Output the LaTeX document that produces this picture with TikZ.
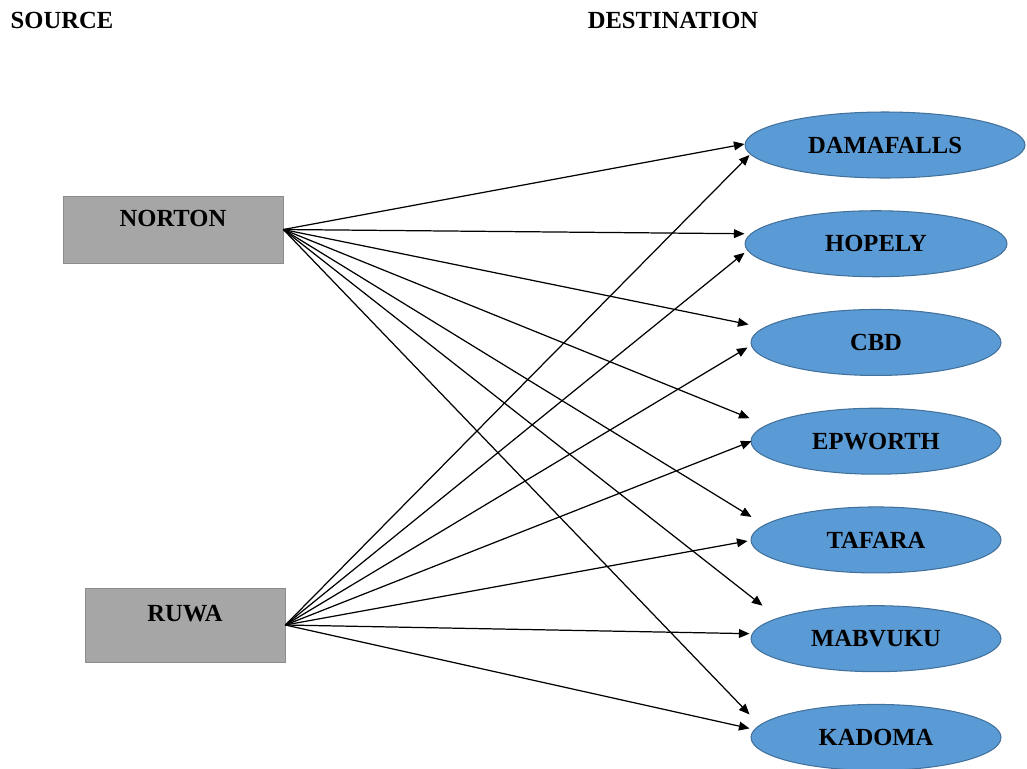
\documentclass[tikz,border=0pt]{standalone}
\usepackage{fontspec}
\setmainfont{Liberation Serif}
\usetikzlibrary{positioning,shapes.geometric,arrows.meta}
\definecolor{boxgray}{HTML}{A6A6A6}
\definecolor{boxline}{HTML}{8C8C8C}
\definecolor{destblue}{HTML}{5B9BD5}
\definecolor{destline}{HTML}{41719C}
\tikzset{
  source box/.style={
    fill=boxgray,
    draw=boxline,
    minimum width={#1},
    minimum height={1.34cm},
    text height=9.3pt,
    text depth=13pt,
    font=\fontsize{14}{16}\selectfont\bfseries,
  },
  dest/.style={
    ellipse,
    fill=destblue,
    draw=destline,
    line width=0.6pt,
    inner sep=0pt,
    minimum width={#1},
    minimum height={1.32cm},
    font=\fontsize{14}{16}\selectfont\bfseries,
  },
  dest/.default=5cm,
  heading/.style={
    font=\fontsize{14}{16}\selectfont\bfseries,
  },
  link/.style={
    -{Triangle[length=6pt,width=5pt]},
    line width=0.7pt,
  }
}

\begin{document}
\begin{tikzpicture}[x=0.02cm, y=-0.02cm, node distance=0.634cm]
        \useasboundingbox (0,0) rectangle (1027,768);

        \node [heading] (srchead) at (62,20) {SOURCE};
        \node [heading] (dsthead) at (673,20) {DESTINATION};

        \node [source box=4.4cm] (norton) at (173,229.5) {NORTON};
        \node [source box=4cm, minimum height=1.48cm] (ruwa) at (185,625) {RUWA};

        \node [dest=5.6cm] (dama) at (885,145) {DAMAFALLS};
        \node [dest=5.24cm, below=of dama, xshift=-0.18cm] (hopely) {HOPELY};
        \node [dest, below=of hopely] (cbd) {CBD};
        \node [dest, below=of cbd] (epworth) {EPWORTH};
        \node [dest, below=of epworth] (tafara) {TAFARA};
        \node [dest, below=of tafara] (mabvuku) {MABVUKU};
        \node [dest, below=of mabvuku] (kadoma) {KADOMA};

        % norton routes
        \draw [link] (norton.east) -- ([shift={(0,-1)}]dama.west);
        \draw [link] (norton.east) -- ([shift={(0,-10)}]hopely.west);
        \draw [link] (norton.east) -- ([shift={(-2,-18)}]cbd.west);
        \draw [link] (norton.east) -- ([shift={(-1,-23)}]epworth.west);
        \draw [link] (norton.east) -- ([shift={(1,-23)}]tafara.west);
        \draw [link] (norton.east) -- ([shift={(12,-33)}]mabvuku.west);
        \draw [link] (norton.east) -- ([shift={(-1,-23)}]kadoma.west);

        % ruwa routes
        \draw [link] (ruwa.east) -- ([shift={(5,10)}]dama.west);
        \draw [link] (ruwa.east) -- ([shift={(0,9)}]hopely.west);
        \draw [link] (ruwa.east) -- ([shift={(-3,5)}]cbd.west);
        \draw [link] (ruwa.east) -- ([shift={(1,0)}]epworth.west);
        \draw [link] (ruwa.east) -- ([shift={(-3,1)}]tafara.west);
        \draw [link] (ruwa.east) -- ([shift={(-1,-5)}]mabvuku.west);
        \draw [link] (ruwa.east) -- ([shift={(-1,-9)}]kadoma.west);
      \end{tikzpicture}
\end{document}
